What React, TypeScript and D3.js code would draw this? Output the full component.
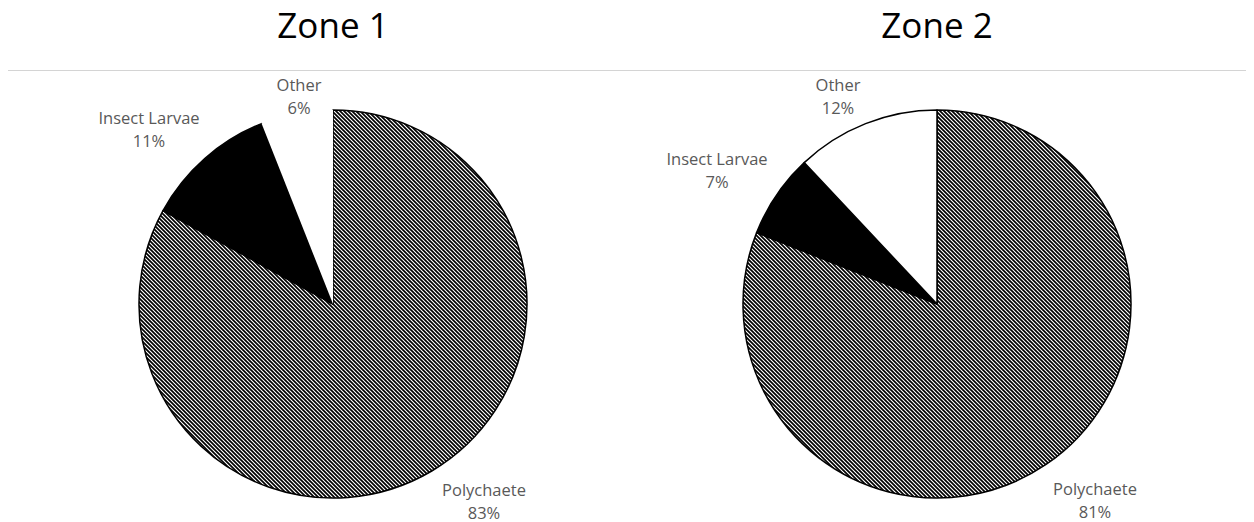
import React from "react";
import * as d3 from "d3";

// Diet composition per zone (percent)
const categories = ["Polychaete", "Insect Larvae", "Other"];
const zone1Values = [83, 11, 6];
const zone2Values = [81, 7, 12];
const zoneTitles = ["Zone 1", "Zone 2"];

const W = 1254;
const H = 522;
const R = 194;
const centers = [
  { x: 333, y: 304 },
  { x: 937, y: 304 },
];
// Label anchor offsets (first baseline) from each pie centre, per category
const labelOffsets = [
  [
    [151, 192],
    [-184, -180],
    [-34, -213],
  ],
  [
    [158, 191],
    [-220, -139],
    [-99, -213],
  ],
];

const fills = ["url(#hatch)", "#000000", "#ffffff"];
const labelFont = "'Open Sans', 'Liberation Sans', sans-serif";

function Pie({ idx, values }: { idx: number; values: number[] }) {
  const c = centers[idx];
  const pie = d3
    .pie<number>()
    .sort(null)
    .startAngle(0)
    .endAngle(2 * Math.PI)
    .value((d) => d);
  const arcs = pie(values);
  const arc = d3.arc<d3.PieArcDatum<number>>().innerRadius(0).outerRadius(R);
  return (
    <g>
      <text
        x={c.x}
        y={38}
        textAnchor="middle"
        fontFamily={labelFont}
        fontSize={35}
        fill="#000"
      >
        {zoneTitles[idx]}
      </text>
      <g transform={`translate(${c.x},${c.y})`}>
        {arcs.map((a, i) => {
          // the small white slice of zone 1 carries no outline
          const noStroke = idx === 0 && i === 2;
          return (
            <path
              key={i}
              d={arc(a) || ""}
              fill={fills[i]}
              stroke={noStroke ? "none" : "#000"}
              strokeWidth={1.5}
              strokeLinejoin="round"
            />
          );
        })}
        {arcs.map((a, i) => {
          const [dx, dy] = labelOffsets[idx][i];
          return (
            <text
              key={`l${i}`}
              x={dx}
              y={dy}
              textAnchor="middle"
              fontFamily={labelFont}
              fontSize={16.5}
              fill="#595959"
            >
              <tspan x={dx}>{categories[i]}</tspan>
              <tspan x={dx} dy={22.5}>
                {`${a.data}%`}
              </tspan>
            </text>
          );
        })}
      </g>
    </g>
  );
}

export default function App() {
  return (
    <svg
      width={W}
      height={H}
      style={{ position: "absolute", left: 0, top: 0, background: "#fff" }}
    >
      <defs>
        <pattern
          id="hatch"
          patternUnits="userSpaceOnUse"
          width={4}
          height={4}
        >
          <rect width={4} height={4} fill="#fff" />
          <path
            d="M-1,-1 L5,5 M-1,3 L1,5 M3,-1 L5,1"
            stroke="#000"
            strokeWidth={1.7}
          />
        </pattern>
      </defs>
      <rect width={W} height={H} fill="#fff" />
      <line x1={8} x2={W - 8} y1={70.5} y2={70.5} stroke="#d4d4d4" strokeWidth={1} />
      <Pie idx={0} values={zone1Values} />
      <Pie idx={1} values={zone2Values} />
    </svg>
  );
}
